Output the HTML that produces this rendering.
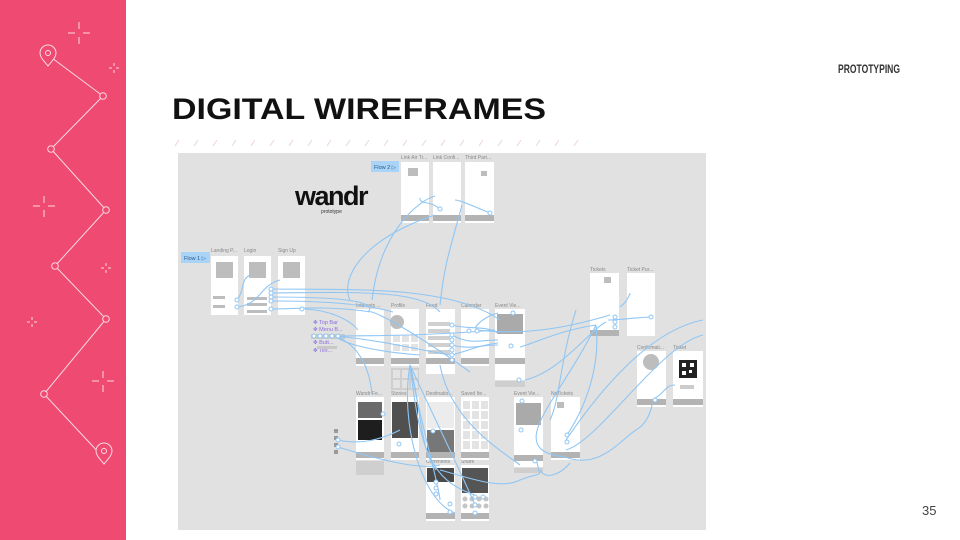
<!DOCTYPE html>
<html><head><meta charset="utf-8"><style>
html,body{margin:0;padding:0;background:#fff;}
svg{display:block;}
</style></head><body>
<svg width="960" height="540" viewBox="0 0 960 540" xmlns="http://www.w3.org/2000/svg" font-family="Liberation Sans, sans-serif">
<!-- left band -->
<rect x="0" y="0" width="126" height="540" fill="#EF4A72"/>
<g stroke="#fbdbe3" stroke-width="1" fill="none">
<polyline points="52,58 103,96 51,149 106,210 55,266 106,319 44,394 101,455"/>
</g>
<g fill="#EF4A72" stroke="#fbdbe3" stroke-width="1">
<circle cx="103" cy="96" r="3.3"/><circle cx="51" cy="149" r="3.3"/><circle cx="106" cy="210" r="3.3"/>
<circle cx="55" cy="266" r="3.3"/><circle cx="106" cy="319" r="3.3"/><circle cx="44" cy="394" r="3.3"/>
<path d="M48,66 C43,60 40,57 40,53 A8,8 0 0 1 56,53 C56,57 53,60 48,66 Z"/><circle cx="48" cy="53" r="2.5"/>
<path d="M104,464 C99,458 96,455 96,451 A8,8 0 0 1 112,451 C112,455 109,458 104,464 Z"/><circle cx="104" cy="451" r="2.5"/>
</g>
<g stroke="#fbdbe3" stroke-width="1">
<path d="M68,33h7M83,33h7M79,22v7M79,37v7"/>
<path d="M33,206h7M48,206h7M44,196v7M44,210v7"/>
<path d="M92,381h7M107,381h7M103,371v7M103,385v7"/>
<path d="M109,68h3M116,68h3M114,63v3M114,70v3"/>
<path d="M101,268h3M108,268h3M106,263v3M106,270v3"/>
<path d="M27,322h3M34,322h3M32,317v3M32,324v3"/>
</g>
<!-- title -->
<text x="172" y="119" font-size="30" font-weight="bold" fill="#111" textLength="374" lengthAdjust="spacingAndGlyphs">DIGITAL WIREFRAMES</text>
<text x="838" y="73" font-size="11.5" font-weight="bold" fill="#333" textLength="62" lengthAdjust="spacingAndGlyphs">PROTOTYPING</text>
<text x="922" y="515" font-size="13" fill="#444">35</text>
<g stroke="#eed3da" stroke-width="1">
<path d="M175,146l4,-6M194,146l4,-6M213,146l4,-6M232,146l4,-6M251,146l4,-6M270,146l4,-6M289,146l4,-6M308,146l4,-6M327,146l4,-6M346,146l4,-6M365,146l4,-6M384,146l4,-6M403,146l4,-6M422,146l4,-6M441,146l4,-6M460,146l4,-6M479,146l4,-6M498,146l4,-6M517,146l4,-6M536,146l4,-6M555,146l4,-6M574,146l4,-6"/>
</g>
<!-- canvas -->
<rect x="178" y="153" width="528" height="377" fill="#e1e1e1"/>
<!-- wandr logo -->
<text x="295" y="205" font-size="27" font-weight="bold" fill="#111" letter-spacing="-1.5">wandr</text>
<text x="321" y="213" font-size="5" fill="#333">prototype</text>
<!-- flow tags -->
<rect x="371" y="161" width="28" height="11" fill="#a9d3f7"/><text x="374" y="169" font-size="5.5" fill="#2a5b8a">Flow 2 ▷</text>
<rect x="181" y="252" width="29" height="11" fill="#a9d3f7"/><text x="184" y="260" font-size="5.5" fill="#2a5b8a">Flow 1 ▷</text>
<!-- frame labels -->
<g font-size="5" fill="#888">
<text x="401" y="159">Link Air Tr...</text><text x="433" y="159">Link Confi...</text><text x="465" y="159">Third Part...</text>
<text x="211" y="252">Landing P...</text><text x="244" y="252">Login</text><text x="278" y="252">Sign Up</text>
<text x="356" y="307">Interests ...</text><text x="391" y="307">Profile</text><text x="426" y="307">Feed</text><text x="461" y="307">Calendar</text><text x="495" y="307">Event Vie...</text>
<text x="356" y="395">Wandr Fe...</text><text x="391" y="395">Stories</text><text x="426" y="395">Destinatio...</text><text x="461" y="395">Saved Ite...</text><text x="514" y="395">Event Vie...</text><text x="551" y="395">NoTickets</text>
<text x="426" y="463">Comments</text><text x="461" y="463">Share</text>
<text x="590" y="271">Tickets</text><text x="627" y="271">Ticket Pur...</text><text x="637" y="349">Confirmati...</text><text x="673" y="349">Ticket</text>
</g>
<!-- frames -->
<g fill="#fff">
<rect x="401" y="162" width="28" height="61"/><rect x="433" y="162" width="28" height="61"/><rect x="465" y="162" width="29" height="61"/>
<rect x="211" y="256" width="27" height="59"/><rect x="244" y="256" width="27" height="59"/><rect x="278" y="256" width="27" height="59"/>
<rect x="356" y="309" width="28" height="57"/><rect x="391" y="309" width="28" height="57"/><rect x="426" y="309" width="29" height="65"/><rect x="461" y="309" width="28" height="57"/><rect x="495" y="309" width="30" height="71"/>
<rect x="356" y="397" width="28" height="63"/><rect x="391" y="397" width="28" height="63"/><rect x="426" y="397" width="29" height="63"/><rect x="461" y="397" width="28" height="63"/><rect x="514" y="397" width="29" height="70"/><rect x="551" y="397" width="29" height="63"/>
<rect x="426" y="465" width="29" height="56"/><rect x="461" y="465" width="28" height="56"/>
<rect x="590" y="273" width="29" height="63"/><rect x="627" y="273" width="28" height="63"/><rect x="637" y="351" width="29" height="56"/><rect x="673" y="351" width="30" height="56"/>
</g>
<!-- extra blocks -->
<g fill="#cfcfcf">
<rect x="391" y="368" width="28" height="22"/><rect x="495" y="381" width="30" height="6"/><rect x="514" y="468" width="29" height="5"/><rect x="356" y="461" width="28" height="14"/>
</g>
<!-- bottom bars -->
<g fill="#b3b3b3">
<rect x="401" y="215" width="28" height="6"/><rect x="433" y="215" width="28" height="6"/><rect x="465" y="215" width="29" height="6"/>
<rect x="356" y="358" width="28" height="6"/><rect x="391" y="358" width="28" height="6"/><rect x="426" y="358" width="29" height="6"/><rect x="461" y="358" width="28" height="6"/><rect x="495" y="358" width="30" height="6"/>
<rect x="356" y="452" width="28" height="6"/><rect x="391" y="452" width="28" height="6"/><rect x="426" y="452" width="29" height="6"/><rect x="461" y="452" width="28" height="6"/><rect x="514" y="455" width="29" height="6"/><rect x="551" y="452" width="29" height="6"/>
<rect x="426" y="513" width="29" height="6"/><rect x="461" y="513" width="28" height="6"/>
<rect x="590" y="330" width="29" height="6"/><rect x="637" y="399" width="29" height="6"/><rect x="673" y="399" width="30" height="6"/>
</g>
<!-- inner content -->
<g fill="#bdbdbd">
<rect x="216" y="262" width="17" height="16"/><rect x="249" y="262" width="17" height="16"/><rect x="283" y="262" width="17" height="16"/>
<rect x="408" y="168" width="10" height="8"/><rect x="481" y="171" width="6" height="5"/>
<circle cx="397" cy="322" r="7"/><circle cx="651" cy="362" r="8"/>
<rect x="497" y="314" width="26" height="20" fill="#aaa"/><rect x="516" y="403" width="25" height="22" fill="#aaa"/>
<rect x="557" y="402" width="7" height="6"/><rect x="604" y="277" width="7" height="6"/>
<rect x="213" y="296" width="12" height="3"/><rect x="213" y="305" width="12" height="3"/>
<rect x="247" y="297" width="20" height="3"/><rect x="247" y="303" width="20" height="3"/><rect x="247" y="310" width="20" height="3"/>
</g>
<!-- grids -->
<g fill="#e3e3e3">
<rect x="393" y="335" width="7" height="7"/><rect x="402" y="335" width="7" height="7"/><rect x="411" y="335" width="7" height="7"/>
<rect x="393" y="344" width="7" height="7"/><rect x="402" y="344" width="7" height="7"/><rect x="411" y="344" width="7" height="7"/>
<rect x="393" y="370" width="7" height="8"/><rect x="402" y="370" width="7" height="8"/><rect x="411" y="370" width="7" height="8"/>
<rect x="393" y="380" width="7" height="8"/><rect x="402" y="380" width="7" height="8"/><rect x="411" y="380" width="7" height="8"/>
<rect x="463" y="401" width="7" height="8"/><rect x="472" y="401" width="7" height="8"/><rect x="481" y="401" width="7" height="8"/>
<rect x="463" y="411" width="7" height="8"/><rect x="472" y="411" width="7" height="8"/><rect x="481" y="411" width="7" height="8"/>
<rect x="463" y="421" width="7" height="8"/><rect x="472" y="421" width="7" height="8"/><rect x="481" y="421" width="7" height="8"/>
<rect x="463" y="431" width="7" height="8"/><rect x="472" y="431" width="7" height="8"/><rect x="481" y="431" width="7" height="8"/>
<rect x="463" y="441" width="7" height="8"/><rect x="472" y="441" width="7" height="8"/><rect x="481" y="441" width="7" height="8"/>
</g>
<!-- feed rows -->
<g fill="#d0d0d0">
<rect x="428" y="322" width="22" height="4"/><rect x="428" y="329" width="22" height="4"/><rect x="428" y="336" width="22" height="4"/><rect x="428" y="343" width="22" height="4"/><rect x="428" y="350" width="22" height="4"/>
</g>
<!-- photos -->
<rect x="358" y="402" width="24" height="16" fill="#6a6a6a"/>
<rect x="358" y="420" width="24" height="20" fill="#1e1e1e"/>
<rect x="392" y="402" width="26" height="36" fill="#505050"/>
<rect x="427" y="402" width="27" height="26" fill="#ececec"/>
<rect x="427" y="430" width="27" height="22" fill="#777"/>
<rect x="427" y="468" width="27" height="14" fill="#4a4a4a"/>
<rect x="462" y="468" width="26" height="25" fill="#555"/>
<g fill="#c4c4c4">
<circle cx="465" cy="499" r="2.5"/><circle cx="472" cy="499" r="2.5"/><circle cx="479" cy="499" r="2.5"/><circle cx="486" cy="499" r="2.5"/>
<circle cx="465" cy="506" r="2.5"/><circle cx="472" cy="506" r="2.5"/><circle cx="479" cy="506" r="2.5"/><circle cx="486" cy="506" r="2.5"/>
</g>
<rect x="679" y="360" width="18" height="18" fill="#222"/>
<g fill="#fff"><rect x="682" y="363" width="4" height="4"/><rect x="690" y="363" width="4" height="4"/><rect x="682" y="371" width="4" height="4"/><rect x="689" y="370" width="3" height="3"/></g>
<rect x="680" y="385" width="14" height="4" fill="#ccc"/>
<!-- left list purple -->
<g font-size="5.5" fill="#8a6be0">
<text x="313" y="324">✥ Top Bar</text><text x="313" y="331">✥ Menu B...</text><text x="313" y="344">✥ Butt...</text><text x="313" y="352">✥ Tex...</text>
</g>
<rect x="311" y="334" width="34" height="5" fill="#c8c8c8"/><rect x="317" y="346" width="20" height="3" fill="#c8c8c8"/>
<g fill="#999"><rect x="334" y="429" width="4" height="4"/><rect x="334" y="436" width="4" height="4"/><rect x="334" y="443" width="4" height="4"/><rect x="334" y="450" width="4" height="4"/></g>
<!-- links -->
<g fill="none" stroke="#90c6f4" stroke-width="1.1">
<path d="M237,300 C245,290 240,280 250,275"/>
<path d="M237,307 C260,305 260,285 280,280"/>
<path d="M271,289 C350,290 450,285 500,320"/>
<path d="M271,293 C360,292 420,290 440,312"/>
<path d="M271,297 C330,297 380,300 368,312"/>
<path d="M271,301 C320,301 360,303 393,312"/>
<path d="M305,309 C330,310 350,320 358,330"/>
<path d="M271,309 C300,309 320,305 372,312 C390,318 440,350 470,372"/>
<path d="M440,209 C430,200 420,205 420,198"/>
<path d="M490,213 C470,205 460,200 455,200"/>
<path d="M435,196 C420,200 380,230 372,300"/>
<path d="M462,205 C450,250 445,260 440,305"/>
<path d="M335,336 C380,336 440,335 495,330"/>
<path d="M335,336 C380,340 420,350 450,355"/>
<path d="M335,336 C360,345 370,370 372,395"/>
<path d="M335,336 C345,345 380,352 420,355"/>
<path d="M452,325 C470,330 485,325 498,333"/>
<path d="M452,335 C470,345 480,340 498,340"/>
<path d="M452,345 C470,350 480,345 498,345"/>
<path d="M452,355 C470,350 480,345 498,343"/>
<path d="M498,313 C490,315 480,320 475,328"/>
<path d="M477,330 C520,335 560,330 610,315"/>
<path d="M525,380 C560,372 590,330 606,322"/>
<path d="M620,307 C630,300 630,290 630,295"/>
<path d="M650,317 C630,318 620,320 608,320"/>
<path d="M596,325 C560,330 530,345 520,347"/>
<path d="M596,325 C600,360 590,400 567,435"/>
<path d="M596,325 C560,400 500,450 565,457"/>
<path d="M576,310 C560,360 560,400 550,420"/>
<path d="M703,320 C650,330 600,390 566,440"/>
<path d="M703,335 C660,345 600,440 566,450"/>
<path d="M440,365 C450,420 500,450 520,465"/>
<path d="M565,457 C600,470 620,440 636,430 C645,425 650,415 652,405"/>
<path d="M655,398 C665,393 665,385 675,385"/>
<path d="M338,440 C360,445 380,440 400,430"/>
<path d="M338,447 C380,460 420,470 440,465"/>
<path d="M410,365 C420,400 420,450 436,470"/>
<path d="M410,365 C440,430 460,470 475,505"/>
<path d="M410,365 C420,420 440,490 440,500"/>
<path d="M410,365 C420,450 430,480 475,495"/>
<path d="M410,365 C400,420 420,500 455,513"/>
<path d="M537,462 C540,480 545,470 520,480 C500,490 470,478 440,470"/>
<path d="M570,463 C560,475 545,480 540,470"/>
<path d="M350,300 C340,280 360,240 435,215"/>
</g>
<g fill="#fff" stroke="#90c6f4" stroke-width="1">
<circle cx="237" cy="300" r="2"/><circle cx="237" cy="307" r="2"/><circle cx="271" cy="289" r="2"/><circle cx="271" cy="293" r="2"/><circle cx="271" cy="297" r="2"/><circle cx="271" cy="301" r="2"/><circle cx="271" cy="309" r="2"/><circle cx="302" cy="309" r="2"/>
<circle cx="440" cy="209" r="2"/><circle cx="490" cy="213" r="2"/>
<circle cx="314" cy="336" r="2"/><circle cx="320" cy="336" r="2"/><circle cx="326" cy="336" r="2"/><circle cx="332" cy="336" r="2"/><circle cx="338" cy="336" r="2"/>
<circle cx="452" cy="325" r="2"/><circle cx="452" cy="335" r="2"/><circle cx="452" cy="340" r="2"/><circle cx="452" cy="345" r="2"/><circle cx="452" cy="350" r="2"/><circle cx="452" cy="355" r="2"/><circle cx="452" cy="360" r="2"/>
<circle cx="469" cy="331" r="2"/><circle cx="477" cy="331" r="2"/><circle cx="513" cy="313" r="2"/><circle cx="511" cy="346" r="2"/><circle cx="519" cy="380" r="2"/>
<circle cx="615" cy="317" r="2"/><circle cx="615" cy="322" r="2"/><circle cx="615" cy="327" r="2"/><circle cx="651" cy="317" r="2"/>
<circle cx="567" cy="435" r="2"/><circle cx="567" cy="442" r="2"/><circle cx="535" cy="461" r="2"/><circle cx="522" cy="401" r="2"/><circle cx="521" cy="430" r="2"/><circle cx="655" cy="400" r="2"/>
<circle cx="338" cy="440" r="2"/><circle cx="338" cy="447" r="2"/><circle cx="383" cy="414" r="2"/><circle cx="399" cy="444" r="2"/><circle cx="433" cy="431" r="2"/>
<circle cx="436" cy="482" r="2"/><circle cx="436" cy="488" r="2"/><circle cx="436" cy="494" r="2"/><circle cx="450" cy="504" r="2"/><circle cx="450" cy="512" r="2"/>
<circle cx="475" cy="497" r="2"/><circle cx="483" cy="497" r="2"/><circle cx="475" cy="505" r="2"/><circle cx="475" cy="513" r="2"/>
</g>
</svg>
</body></html>
